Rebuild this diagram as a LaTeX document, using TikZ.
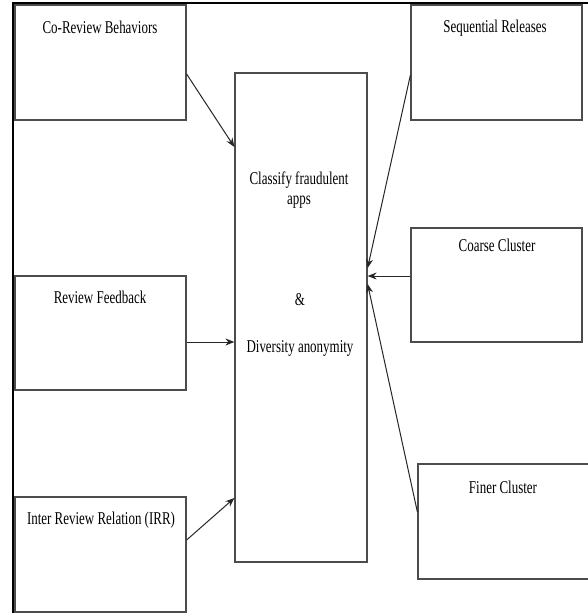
\documentclass[tikz,border=0pt]{standalone}
\usepackage{fontspec}
\setmainfont[FakeStretch=0.72]{Liberation Serif}
\usetikzlibrary{arrows.meta}

\tikzset{
  box/.style={draw=black!70, line width=1.2pt, inner sep=0pt},
  lbl/.style={font=\fontsize{18}{20}\selectfont, inner sep=0pt, align=center},
  arr/.style={draw=black!85, line width=1pt, -{Stealth[length=9pt,width=7pt]}},
}

\begin{document}
\begin{tikzpicture}[x=1pt,y=-1pt]
\useasboundingbox (0,0) rectangle (587,613);

% outer frame, cut at the right and at the bottom
\draw [line width=1.5pt] (13,615) -- (13,3) -- (590,3);

% middle box
\node [box, minimum width=132pt, minimum height=489pt] (cls) at (301,317.5) {};
\node [lbl] (clst) at (299,190) {Classify fraudulent\\apps};
\node [lbl] (amp) at (300,300) {\&};
\node [lbl] (div) at (300,348) {Diversity anonymity};

% left column
\node [box, minimum width=171pt, minimum height=115pt] (corev) at (100.5,62.5) {};
\node [lbl] (corevt) at (100,27) {Co-Review Behaviors};

\node [box, minimum width=171pt, minimum height=114pt] (feed) at (100.5,333) {};
\node [lbl] (feedt) at (100,297) {Review Feedback};

\node [box, minimum width=171pt, minimum height=115pt] (irr) at (100.5,554.5) {};
\node [lbl] (irrt) at (101,520) {Inter Review Relation (IRR)};

% right column
\node [box, minimum width=171pt, minimum height=115pt] (seq) at (496.5,62.5) {};
\node [lbl] (seqt) at (495,28) {Sequential Releases};

\node [box, minimum width=171pt, minimum height=114pt] (coarse) at (496.5,285) {};
\node [lbl] (coarset) at (497,245) {Coarse Cluster};

\node [box, minimum width=190pt, minimum height=115pt] (finer) at (513,521.5) {};
\node [lbl] (finert) at (503,487) {Finer Cluster};

% arrows into the middle box
\draw [arr] (corev.east |- 0,74) -- (cls.west |- 0,147);
\draw [arr] (feed.east |- 0,342) -- (cls.west |- 0,342);
\draw [arr] (irr.east |- 0,540) -- (cls.west |- 0,498);
\draw [arr] (seq.west |- 0,75) -- (cls.east |- 0,268);
\draw [arr] (coarse.west |- 0,276) -- (cls.east |- 0,276);
\draw [arr] (finer.west |- 0,512) -- (cls.east |- 0,284);
\end{tikzpicture}
\end{document}
